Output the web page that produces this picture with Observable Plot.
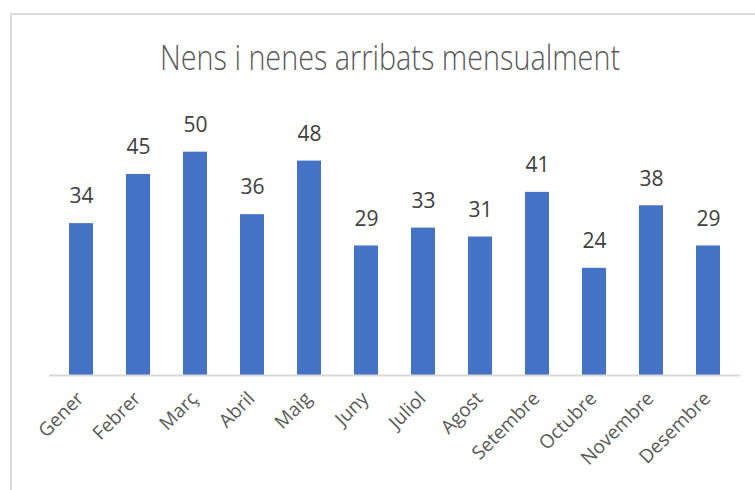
<!DOCTYPE html>
<html>
<head>
<meta charset="utf-8">
<script src="https://cdn.jsdelivr.net/npm/d3@7"></script>
<script src="https://cdn.jsdelivr.net/npm/@observablehq/plot@0.6"></script>
<style>
  html, body { margin: 0; padding: 0; background: #fff; }
  #frame { position: absolute; left: 10px; top: 13px; width: 800px; height: 520px;
           border-left: 2px solid #d9d9d9; border-top: 2px solid #d9d9d9; }
  #chart { position: absolute; left: 0; top: 0; }
</style>
</head>
<body>
<div id="frame"></div>
<div id="chart"></div>
<script>
const months = ["Gener","Febrer","Març","Abril","Maig","Juny","Juliol","Agost","Setembre","Octubre","Novembre","Desembre"];
const values = [34,45,50,36,48,29,33,31,41,24,38,29];
const title = "Nens i nenes arribats mensualment";

const data = months.map((m, i) => ({month: m, value: values[i]}));

const chart = Plot.plot({
  width: 755,
  height: 490,
  marginLeft: 49,
  marginRight: 15,
  marginTop: 107,
  marginBottom: 115,
  style: {fontFamily: "'Open Sans', sans-serif", background: "transparent"},
  x: {domain: months, paddingInner: 0.58, paddingOuter: 0.29, label: null},
  y: {domain: [0, 60], axis: null},
  marks: [
    Plot.axisX({tickSize: 0, tickRotate: -45, tickPadding: 20, dx: -1, fontSize: 19, fill: "#595959", label: null}),
    Plot.barY(data, {x: "month", y: "value", fill: "#4472C4"}),
    Plot.ruleY([0], {stroke: "#d9d9d9", strokeWidth: 2}),
    Plot.text(data, {x: "month", y: "value", text: d => String(d.value), dy: -27, fontSize: 21, fill: "#404040"}),
    Plot.text([title], {frameAnchor: "top", dy: -62, dx: -5, fontSize: 35, fontWeight: 300, fill: "#595959",
      className: "chart-title"})
  ]
});
document.getElementById("chart").appendChild(chart);
const t = chart.querySelector(".chart-title text");
if (t) { t.setAttribute("textLength", "460"); t.setAttribute("lengthAdjust", "spacingAndGlyphs"); }
</script>
</body>
</html>
